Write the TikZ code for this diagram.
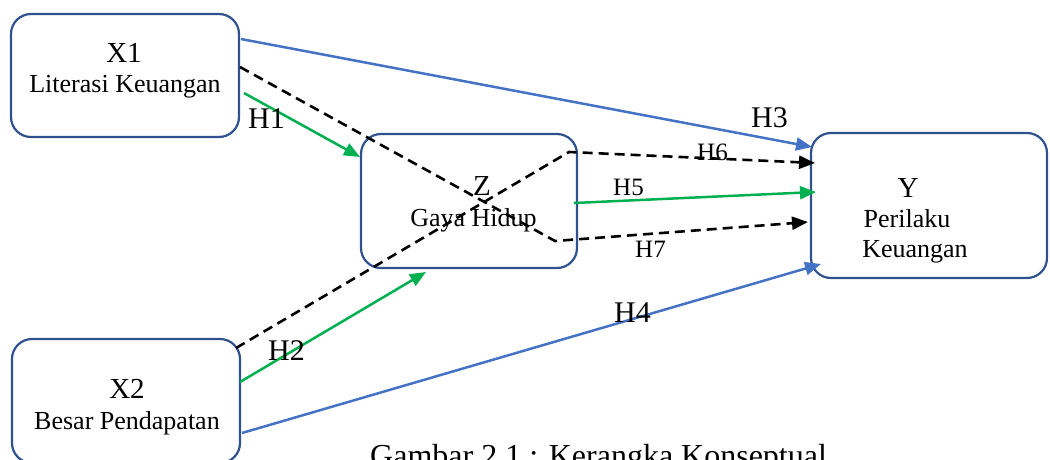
\documentclass[tikz,border=0pt]{standalone}
\usepackage{fontspec}
\setmainfont{Liberation Serif}
\usetikzlibrary{arrows.meta}
\definecolor{boxline}{HTML}{2F528F}
\definecolor{edgeblue}{HTML}{4472C4}
\definecolor{edgegreen}{HTML}{00B050}
\tikzset{
  varbox/.style={draw=boxline, line width=2.2pt, rounded corners=20pt, fill=white, inner sep=0pt},
  head/.style={anchor=base, inner sep=0pt, font=\fontsize{29}{32}\selectfont},
  sub/.style={anchor=base, inner sep=0pt, font=\fontsize{26}{30}\selectfont},
  hbig/.style={anchor=base west, inner sep=0pt, font=\fontsize{30}{32}\selectfont},
  hsmall/.style={anchor=base west, inner sep=0pt, font=\fontsize{25}{28}\selectfont},
  tip/.style={-{Triangle[length=16pt,width=13pt]}},
  bluearrow/.style={tip, draw=edgeblue, line width=2.5pt},
  greenarrow/.style={tip, draw=edgegreen, line width=2.5pt},
  dasharrow/.style={tip, draw=black, line width=2.6pt, dash pattern=on 10pt off 6pt, line join=miter},
}
\begin{document}
\begin{tikzpicture}[x=1pt, y=-1pt]
\useasboundingbox (0,0) rectangle (1050,459);

% variable boxes
\node[varbox, minimum width=228pt, minimum height=123pt] (X1) at (125,75.5) {};
\node[varbox, minimum width=216pt, minimum height=134pt] (Z) at (469,201) {};
\node[varbox, minimum width=236pt, minimum height=145pt] (Y) at (929,205.5) {};
\node[varbox, minimum width=228pt, minimum height=124pt] (X2) at (126,401) {};

% box texts
\node[head] (x1a) at (124,62) {X1};
\node[sub]  (x1b) at (125,92) {Literasi Keuangan};
\node[head] (x2a) at (127,398) {X2};
\node[sub]  (x2b) at (127,429) {Besar Pendapatan};
\node[head] (za)  at (482,195) {Z};
\node[sub]  (zb)  at (473.5,226) {Gaya Hidup};
\node[head] (ya)  at (908,197) {Y};
\node[sub]  (yb)  at (907,227) {Perilaku};
\node[sub]  (yc)  at (915,257) {Keuangan};

% connector end points on the box borders
\coordinate (x1r1) at (241,39);
\coordinate (x1r2) at (240,67);
\coordinate (x1r3) at (244,93);
\coordinate (x2r1) at (236,348);
\coordinate (x2r2) at (240,382);
\coordinate (x2r3) at (242,433);
\coordinate (zin1) at (360,157);
\coordinate (zin2) at (426,272);
\coordinate (zout) at (574,203);
\coordinate (zk1)  at (569,152);
\coordinate (zk2)  at (555,241);
\coordinate (yin3) at (812,147);
\coordinate (yin6) at (815,163);
\coordinate (yin5) at (816,192);
\coordinate (yin7) at (808,222);
\coordinate (yin4) at (821,264);

% paths
\draw[bluearrow]  (x1r1) -- (yin3);
\draw[greenarrow] (x1r3) -- (zin1);
\draw[dasharrow]  (x1r2) -- (zk2) -- (yin7);
\draw[dasharrow]  (x2r1) -- (zk1) -- (yin6);
\draw[greenarrow] (zout) -- (yin5);
\draw[greenarrow] (x2r2) -- (zin2);
\draw[bluearrow]  (x2r3) -- (yin4);

% hypothesis labels
\node[hbig]   (h1) at (248,128) {H1};
\node[hbig]   (h2) at (268,360) {H2};
\node[hbig]   (h3) at (751,127) {H3};
\node[hbig]   (h4) at (614,322) {H4};
\node[hsmall] (h5) at (613,195) {H5};
\node[hsmall] (h6) at (697,160) {H6};
\node[hsmall] (h7) at (635,257) {H7};

% caption
\node[anchor=base west, inner sep=0pt, font=\fontsize{32}{36}\selectfont] (cap) at (370,466) {Gambar 2.1 : Kerangka Konseptual};
\end{tikzpicture}
\end{document}
